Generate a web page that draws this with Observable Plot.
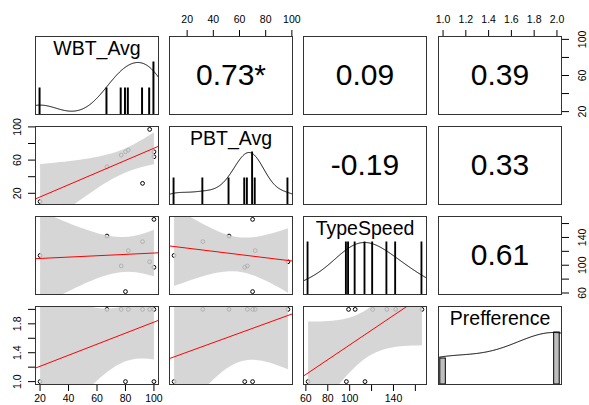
<!DOCTYPE html>
<html><head><meta charset="utf-8">
<script src="https://cdn.jsdelivr.net/npm/d3@7"></script>
<script src="https://cdn.jsdelivr.net/npm/@observablehq/plot@0.6"></script>
<style>
html,body{margin:0;padding:0;background:#fff;overflow:hidden;}
#chart{position:relative;width:589px;height:405px;overflow:hidden;background:#fff;}
#chart svg{position:absolute;}
</style></head><body><div id="chart"></div>
<script>
// ---- data ----
const variables = ["WBT_Avg", "PBT_Avg", "TypeSpeed", "Prefference"];
const WBT_Avg = [20, 67, 77, 80, 82, 92, 97, 100, 100];
const PBT_Avg = [10, 52, 66, 70, 72, 32, 97, 70, 64];
const TypeSpeed = [114, 142, 99, 62, 121, 134, 105, 166, 97];
const Prefference = [1, 2, 2, 1, 2, 2, 2, 2, 1];
// correlation labels for upper panels, order (1,2),(1,3),(1,4),(2,3),(2,4),(3,4)
const corrLabels = ["0.73*", "0.09", "0.39", "-0.19", "0.33", "0.61"];
// tick values
const wbtTicks = [20, 40, 60, 80, 100];
const pbtTicks = [20, 40, 60, 80, 100];
const typeTicks = [60, 80, 100, 120, 140, 160];
const prefTicks = [1.0, 1.2, 1.4, 1.6, 1.8, 2.0];
// tick labels per axis
const topPbtLabels = ["20", "40", "60", "80", "100"];
const topPrefLabels = ["1.0", "1.2", "1.4", "1.6", "1.8", "2.0"];
const bottomWbtLabels = ["20", "40", "60", "80", "100"];
const bottomTypeLabels = ["60", "80", "100", "", "140", ""];
const leftPbtLabels = ["20", "", "60", "", "100"];
const leftPrefLabels = ["1.0", "", "1.4", "", "1.8", ""];
const rightWbtLabels = ["20", "", "60", "", "100"];
const rightTypeLabels = ["60", "", "100", "", "140", ""];

// ---- layout ----
const colLeft = [35, 169, 303, 438];
const rowTop = [36, 126, 216, 306];
const panelW = 123, panelH = 78, M = 32;
const FONT = "'Liberation Sans', Arial, sans-serif";

const series = [WBT_Avg, PBT_Avg, TypeSpeed, Prefference];
const tickSets = [wbtTicks, pbtTicks, typeTicks, prefTicks];
const topAxes = {1: topPbtLabels, 3: topPrefLabels};
const bottomAxes = {0: bottomWbtLabels, 2: bottomTypeLabels};
const leftAxes = {1: leftPbtLabels, 3: leftPrefLabels};
const rightAxes = {0: rightWbtLabels, 2: rightTypeLabels};

function domainOf(v) { const [a, b] = d3.extent(v); const p = (b - a) * 0.04; return [a - p, b + p]; }
const domains = series.map(domainOf);

function kde(v) {
  const n = v.length;
  const sd = d3.deviation(v);
  const h = (d3.quantile(v, 0.75) - d3.quantile(v, 0.25)) / 1.34;
  const bw = 1.06 * Math.min(sd, h) * Math.pow(n, -0.2) * 1.2;
  const lo = d3.min(v) - 3 * bw, hi = d3.max(v) + 3 * bw;
  const g = d3.range(512).map(i => lo + (hi - lo) * i / 511);
  const dens = g.map(x => d3.sum(v, t => Math.exp(-0.5 * ((x - t) / bw) ** 2)));
  const m = d3.max(dens);
  return g.map((x, i) => ({x, y: dens[i] / m}));
}
function fit(xs, ys) {
  const mx = d3.mean(xs), my = d3.mean(ys);
  let sxy = 0, sxx = 0;
  xs.forEach((x, i) => { sxy += (x - mx) * (ys[i] - my); sxx += (x - mx) ** 2; });
  const b = sxy / sxx; return {a: my - b * mx, b};
}
function labelMap(ticks, labels) { const m = new Map(ticks.map((t, i) => [t, labels[i]])); return d => m.get(d) ?? ""; }

const chart = document.getElementById("chart");
let corrIdx = 0;
for (let r = 0; r < 4; r++) for (let c = 0; c < 4; c++) {
  const xs = series[c], ys = series[r];
  const marks = [];
  const xOpt = {domain: domains[c], axis: null, label: null};
  const yOpt = {domain: r === c ? [0, 1.5] : domains[r], axis: null, label: null};
  if (r === 0 && topAxes[c]) Object.assign(xOpt, {axis: "top", ticks: tickSets[c], tickSize: 7, tickPadding: 7, tickFormat: labelMap(tickSets[c], topAxes[c])});
  if (r === 3 && bottomAxes[c]) Object.assign(xOpt, {axis: "bottom", ticks: tickSets[c], tickSize: 7, tickPadding: 3, tickFormat: labelMap(tickSets[c], bottomAxes[c])});
  if (c === 0 && leftAxes[r]) Object.assign(yOpt, {axis: "left", ticks: tickSets[r], tickSize: 7, tickFormat: () => ""});
  if (c === 3 && rightAxes[r]) Object.assign(yOpt, {axis: "right", ticks: tickSets[r], tickSize: 7, tickFormat: () => ""});

  if (r === c) {
    const counts = d3.rollups(xs, v => v.length, d => d).sort((a, b) => a[0] - b[0]);
    const uniq = counts.map(d => d[0]);
    const ib = d3.min(d3.pairs(uniq, (a, b) => b - a)) * (uniq.length - 1) / 41;
    const maxC = d3.max(counts, d => d[1]);
    const bars = counts.map(([v, n]) => ({x1: v - ib, x2: v + ib, y: n / maxC}));
    marks.push(Plot.rect(bars, {x1: "x1", x2: "x2", y1: 0, y2: "y", fill: "#bebebe", stroke: "black", strokeWidth: 1}));
    marks.push(Plot.line(kde(xs), {x: "x", y: "y", stroke: "black", strokeWidth: 1, clip: true}));
    marks.push(Plot.text([variables[r]], {frameAnchor: "top", dy: 12.5, text: d => d, fontSize: 19.5, lineAnchor: "middle", fill: "black"}));
  } else if (r > c) {
    const pts = xs.map((x, i) => ({x, y: ys[i]}));
    const f = fit(xs, ys);
    marks.push(Plot.dot(pts, {x: "x", y: "y", r: 1.9, stroke: "black", strokeWidth: 1, fill: "none"}));
    marks.push(Plot.linearRegressionY(pts, {x: "x", y: "y", ci: 0.95, stroke: "none", fill: "#cfcfcf", fillOpacity: 0.85, clip: true}));
    marks.push(Plot.line(domains[c], {x: d => d, y: d => f.a + f.b * d, stroke: "red", strokeWidth: 1, clip: true}));
  } else {
    marks.push(Plot.text([corrLabels[corrIdx++]], {frameAnchor: "middle", text: d => d, fontSize: 30, fill: "black"}));
  }
  marks.push(Plot.frame({stroke: "#333", strokeWidth: 1}));
  if (c === 0 && leftAxes[r]) {
    const L = leftAxes[r];
    marks.push(Plot.text(tickSets[r].map((t, i) => ({t, s: L[i]})).filter(d => d.s), {y: "t", text: "s", frameAnchor: "left", dx: -17.5, rotate: -90, textAnchor: "middle", lineAnchor: "middle", fontSize: 10.5, fill: "black"}));
  }
  if (c === 3 && rightAxes[r]) {
    const L = rightAxes[r];
    marks.push(Plot.text(tickSets[r].map((t, i) => ({t, s: L[i]})).filter(d => d.s), {y: "t", text: "s", frameAnchor: "right", dx: 21, rotate: -90, textAnchor: "middle", lineAnchor: "middle", fontSize: 10.5, fill: "black"}));
  }
  const svg = Plot.plot({
    width: panelW + 2 * M, height: panelH + 2 * M,
    marginTop: M, marginBottom: M, marginLeft: M, marginRight: M,
    x: xOpt, y: yOpt,
    style: {background: "transparent", overflow: "visible", fontFamily: FONT, fontSize: "10.5px", color: "black"},
    marks
  });
  svg.style.left = (colLeft[c] - M) + "px";
  svg.style.top = (rowTop[r] - M) + "px";
  chart.appendChild(svg);
}
</script></body></html>
